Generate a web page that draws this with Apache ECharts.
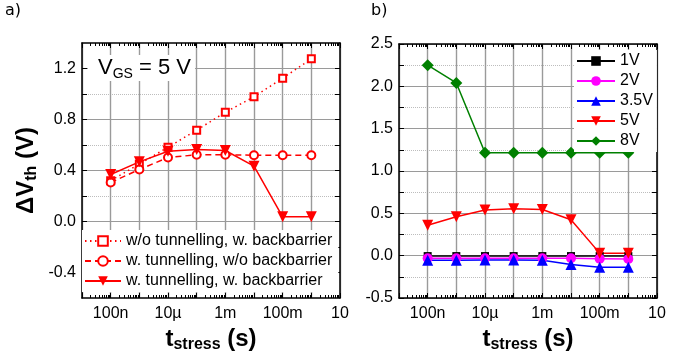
<!DOCTYPE html>
<html><head><meta charset="utf-8">
<script src="https://cdn.jsdelivr.net/npm/echarts@6/dist/echarts.min.js"></script>
<style>html,body{margin:0;padding:0;background:#fff}#c{width:689px;height:360px}</style>
</head><body><div id="c"></div>
<script>
// ---- data ----
const times = [1e-7, 1e-6, 1e-5, 1e-4, 1e-3, 1e-2, 1e-1, 1];
// panel a (V_GS = 5 V)
const aNames = ['w/o tunnelling, w. backbarrier', 'w. tunnelling, w/o backbarrier', 'w. tunnelling, w. backbarrier'];
const aNoTunBB = [0.32, 0.45, 0.583, 0.716, 0.857, 0.978, 1.124, 1.276];
const aTunNoBB = [0.306, 0.408, 0.502, 0.523, 0.523, 0.52, 0.52, 0.52];
const aTunBB   = [0.369, 0.468, 0.551, 0.565, 0.557, 0.434, 0.037, 0.037];
// panel b
const bNames = ['1V', '2V', '3.5V', '5V', '8V'];
const b1V  = [-0.005, -0.005, -0.005, -0.005, -0.005, -0.005, -0.005, -0.005];
const b2V  = [-0.03, -0.03, -0.03, -0.03, -0.03, -0.03, -0.035, -0.04];
const b35V = [-0.055, -0.055, -0.05, -0.05, -0.055, -0.105, -0.138, -0.138];
const b5V  = [0.36, 0.46, 0.54, 0.555, 0.545, 0.425, 0.03, 0.03];
const b8V  = [2.25, 2.04, 1.215, 1.215, 1.215, 1.215, 1.215, 1.215];
// ticks
const xMin = 1e-8, xMax = 10;
const xMajorTicks = [1e-8, 1e-7, 1e-6, 1e-5, 1e-4, 1e-3, 1e-2, 1e-1, 1, 10];
const xLabelVals = [1e-7, 1e-5, 1e-3, 1e-1, 10];
const xLabelText = ['100n', '10µ', '1m', '100m', '10'];
const aYMajor = [-0.4, 0, 0.4, 0.8, 1.2];
const aYMinor = [-0.2, 0.2, 0.6, 1.0];
const bYMajor = [-0.5, 0, 0.5, 1.0, 1.5, 2.0, 2.5];
const bYMinor = [-0.25, 0.25, 0.75, 1.25, 1.75, 2.25];

const xMinorTicks = [];
for (let e = -8; e <= 0; e++) for (let m = 2; m <= 9; m++) xMinorTicks.push(m * Math.pow(10, e));

const FONT = 'Liberation Sans, Arial, sans-serif';
const AX = '#000';
const GRIDC = '#9a9a9a';
const MINORC = '#bdbdbd';

function xLabel(v) {
  for (let i = 0; i < xLabelVals.length; i++) {
    if (Math.abs(Math.log10(v) - Math.log10(xLabelVals[i])) < 1e-6) return xLabelText[i];
  }
  return '';
}

const nameRich = {
  a: { fontSize: 24, fontWeight: 'bold', fontFamily: FONT, color: '#000', lineHeight: 28 },
  b: { fontSize: 16, fontWeight: 'bold', fontFamily: FONT, color: '#000', lineHeight: 6, verticalAlign: 'bottom' }
};

function xAxesFor(gi) {
  const base = { type: 'log', logBase: 10, min: xMin, max: xMax, gridIndex: gi, axisPointer: { show: false } };
  return [
    Object.assign({}, base, {
      position: 'bottom',
      axisLine: { show: true, onZero: false, lineStyle: { color: AX, width: 1.5 } },
      axisTick: { show: true, inside: true, length: 5, customValues: xMajorTicks, lineStyle: { color: AX, width: 1 } },
      axisLabel: { show: true, customValues: xLabelVals, formatter: xLabel, color: '#000', fontSize: 16, fontFamily: FONT, margin: 8 },
      splitLine: { show: true, lineStyle: { color: GRIDC, width: 1.4, type: 'solid' } },
      name: '{a|t}{b|stress}{a| (s)}',
      nameLocation: 'middle',
      nameGap: 24,
      nameTextStyle: { rich: nameRich }
    }),
    Object.assign({}, base, {
      position: 'bottom',
      axisLine: { show: false, onZero: false },
      axisTick: { show: true, inside: true, length: 3, customValues: xMinorTicks, lineStyle: { color: AX, width: 1 } },
      axisLabel: { show: false },
      splitLine: { show: false }
    }),
    Object.assign({}, base, {
      position: 'top',
      axisLine: { show: true, onZero: false, lineStyle: { color: AX, width: 1.5 } },
      axisTick: { show: true, inside: true, length: 5, customValues: xMajorTicks, lineStyle: { color: AX, width: 1 } },
      axisLabel: { show: false },
      splitLine: { show: false }
    }),
    Object.assign({}, base, {
      position: 'top',
      axisLine: { show: false, onZero: false },
      axisTick: { show: true, inside: true, length: 3, customValues: xMinorTicks, lineStyle: { color: AX, width: 1 } },
      axisLabel: { show: false },
      splitLine: { show: false }
    })
  ];
}

function yAxesFor(gi, min, max, major, minor, withName) {
  const base = { type: 'value', min: min, max: max, gridIndex: gi, axisPointer: { show: false } };
  const main = Object.assign({}, base, {
    position: 'left',
    axisLine: { show: true, onZero: false, lineStyle: { color: AX, width: 1.5 } },
    axisTick: { show: true, inside: true, length: 5, customValues: major, lineStyle: { color: AX, width: 1 } },
    axisLabel: { show: true, customValues: major, formatter: v => v.toFixed(1), color: '#000', fontSize: 16, fontFamily: FONT, margin: 6 },
    splitLine: { show: true, lineStyle: { color: GRIDC, width: 1.2, type: 'solid' } }
  });
  if (withName) {
    Object.assign(main, { name: '{a|ΔV}{b|th}{a| (V)}', nameLocation: 'middle', nameGap: 42, nameTextStyle: { rich: nameRich } });
  }
  return [
    main,
    Object.assign({}, base, {
      position: 'left',
      axisLine: { show: false, onZero: false },
      axisTick: { show: true, inside: true, length: 5, customValues: minor, lineStyle: { color: AX, width: 1 } },
      axisLabel: { show: false },
      splitLine: { show: true, lineStyle: { color: MINORC, width: 1, type: [1, 1] } }
    }),
    Object.assign({}, base, {
      position: 'right',
      axisLine: { show: true, onZero: false, lineStyle: { color: AX, width: 1.5 } },
      axisTick: { show: true, inside: true, length: 5, customValues: major.concat(minor), lineStyle: { color: AX, width: 1 } },
      axisLabel: { show: false },
      splitLine: { show: false }
    })
  ];
}

function pairs(ys) { return times.map((t, i) => [t, ys[i]]); }

function lineSeries(name, ys, xi, yi, color, symbol, size, lineType, extra) {
  return Object.assign({
    name: name, type: 'line', xAxisIndex: xi, yAxisIndex: yi,
    data: pairs(ys), symbol: symbol, symbolSize: size, showAllSymbol: true,
    color: color, itemStyle: { color: color },
    lineStyle: { color: color, width: 1.5, type: lineType },
    emphasis: { disabled: true }, silent: true, clip: false
  }, extra || {});
}

const RED = '#ff0000';
const series = [
  lineSeries(aNames[0], aNoTunBB, 0, 0, RED, 'emptyRect', 7, [1.5, 3.5], { itemStyle: { color: RED, borderWidth: 1.5 } }),
  lineSeries(aNames[1], aTunNoBB, 0, 0, RED, 'emptyCircle', 8, [6, 4], { itemStyle: { color: RED, borderWidth: 1.5 } }),
  lineSeries(aNames[2], aTunBB, 0, 0, RED, 'triangle', 11, 'solid', { symbolRotate: 180 }),
  lineSeries(bNames[0], b1V, 4, 3, '#000000', 'rect', 8, 'solid'),
  lineSeries(bNames[1], b2V, 4, 3, '#ff00ff', 'circle', 10, 'solid'),
  lineSeries(bNames[2], b35V, 4, 3, '#0000ff', 'triangle', 11, 'solid'),
  lineSeries(bNames[3], b5V, 4, 3, RED, 'triangle', 11, 'solid', { symbolRotate: 180 }),
  lineSeries(bNames[4], b8V, 4, 3, '#008000', 'diamond', [12, 12], 'solid')
];

const legendText = { fontSize: 16, fontFamily: FONT, color: '#000', lineHeight: 15 };

const option = {
  animation: false,
  backgroundColor: '#fff',
  grid: [
    { left: 82, right: 349, top: 43, bottom: 62, containLabel: false },
    { left: 399, right: 32, top: 44, bottom: 62, containLabel: false }
  ],
  xAxis: xAxesFor(0).concat(xAxesFor(1)),
  yAxis: yAxesFor(0, -0.6, 1.4, aYMajor, aYMinor, true).concat(yAxesFor(1, -0.5, 2.5, bYMajor, bYMinor, false)),
  legend: [
    { data: aNames, orient: 'vertical', left: 82, top: 230, itemWidth: 36, itemHeight: 12, itemGap: 4,
      padding: [3, 6, 3, 2], backgroundColor: '#fff', textStyle: legendText, selectedMode: false, z: 10 },
    { data: bNames, orient: 'vertical', left: 574, top: 50, itemWidth: 38, itemHeight: 12, itemGap: 4,
      padding: [3, 4, 3, 2], backgroundColor: '#fff', textStyle: legendText, selectedMode: false, z: 10 }
  ],
  graphic: [
    { type: 'text', left: 5, top: 3, style: { text: 'a)', font: '16px DejaVu Sans', fill: '#000' } },
    { type: 'text', left: 371, top: 3, style: { text: 'b)', font: '16px DejaVu Sans', fill: '#000' } },
    { type: 'text', left: 88, top: 55, z: 20, style: {
        text: '{v|V}{s|GS}{v| = 5 V}', backgroundColor: '#fff', padding: [0, 4, 0, 10],
        rich: {
          v: { fontSize: 22, fontFamily: FONT, fill: '#000', lineHeight: 26 },
          s: { fontSize: 14, fontFamily: FONT, fill: '#000', lineHeight: 10, verticalAlign: 'bottom' }
        }
    } }
  ],
  series: series
};

const chart = echarts.init(document.getElementById('c'), null, { renderer: 'canvas' });
chart.setOption(option);
</script>
</body></html>
